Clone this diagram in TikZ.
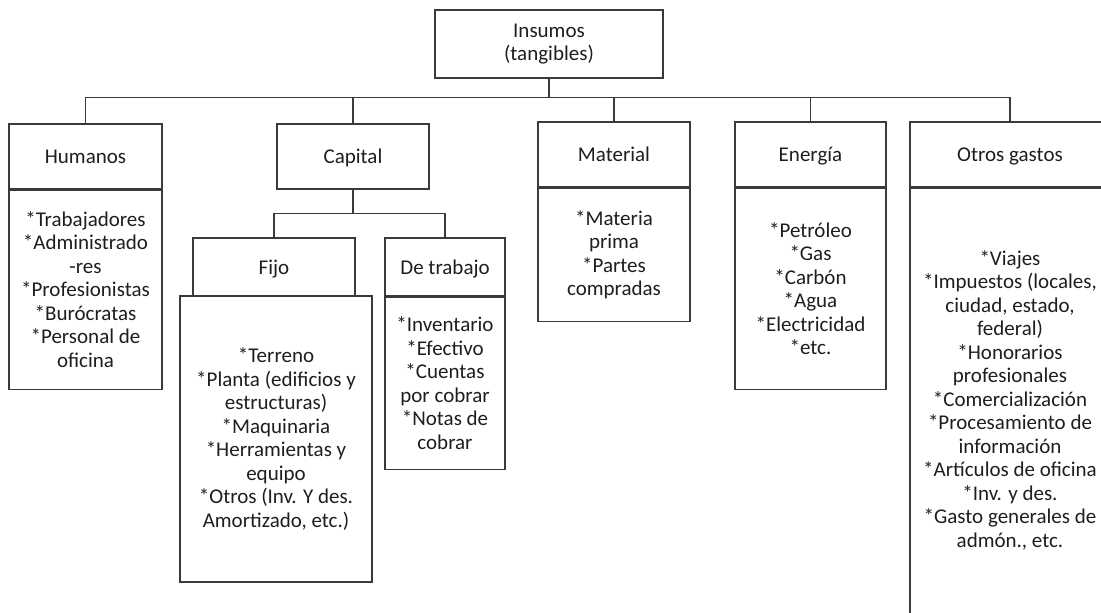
\documentclass[tikz,border=0pt]{standalone}
\usepackage{fontspec}
\setmainfont{Carlito}
\definecolor{linec}{HTML}{3A3A3A}
\definecolor{txt}{HTML}{1E1E1E}
\begin{document}
\begin{tikzpicture}[x=1pt,y=-1pt,
  box/.style={draw=linec, line width=1.1pt, inner sep=0pt, align=center,
    font=\fontsize{21}{23.5}\selectfont, text=txt},
  head/.style={box, text height=16.5pt, text depth=2.5pt},
  plain/.style={inner sep=0pt, align=center,
    font=\fontsize{21}{23.5}\selectfont, text=txt},
  link/.style={draw=linec, line width=1.1pt}]
\useasboundingbox (0,0) rectangle (1101,613);
\clip (0,0) rectangle (1101,613);

% root
\node[box, minimum width=228pt, minimum height=68pt] (ins) at (549,44) {Insumos\\(tangibles)};

% first level headers
\node[head, minimum width=153pt, minimum height=65pt] (hum) at (85.5,156.5) {Humanos};
\node[head, minimum width=152pt, minimum height=65pt] (cap) at (353,156.5) {Capital};
\node[head, minimum width=152pt, minimum height=65pt] (mat) at (614,154.5) {Material};
\node[head, minimum width=151pt, minimum height=65pt] (ene) at (810.5,154.5) {Energía};
\node[head, minimum width=200pt, minimum height=65pt] (otr) at (1010,154.5) {Otros gastos};

% first level bodies
\node[box, minimum width=153pt, minimum height=199pt, anchor=north] (humB) at (hum.south)
  {*Trabajadores\\*Administrado\\-res\\*Profesionistas\\*Burócratas\\*Personal de\\oficina};
\node[box, minimum width=152pt, minimum height=133pt, anchor=north] (matB) at (mat.south)
  {*Materia\\prima\\*Partes\\compradas};
\node[box, minimum width=151pt, minimum height=201pt, anchor=north] (eneB) at (ene.south)
  {*Petróleo\\*Gas\\*Carbón\\*Agua\\*Electricidad\\*etc.};
\node[box, minimum width=200pt, minimum height=460pt, anchor=north] (otrB) at (otr.south) {};
\node[plain] (otrT) at (1010,400)
  {*Viajes\\*Impuestos (locales,\\ciudad, estado,\\federal)\\*Honorarios\\profesionales\\*Comercialización\\*Procesamiento de\\información\\*Artículos de oficina\\*Inv. y des.\\*Gasto generales de\\admón., etc.};

% capital subtree
\node[head, minimum width=162pt, minimum height=58pt] (fij) at (274,267) {Fijo};
\node[head, minimum width=120pt, minimum height=58pt] (det) at (445,267) {De trabajo};
\node[box, minimum width=192pt, minimum height=286pt] (fijB) at (276,439)
  {*Terreno\\*Planta (edificios y\\estructuras)\\*Maquinaria\\*Herramientas y\\equipo\\*Otros (Inv. Y des.\\Amortizado, etc.)};
\node[box, minimum width=120pt, minimum height=172pt, anchor=north] (detB) at (det.south)
  {*Inventario\\*Efectivo\\*Cuentas\\por cobrar\\*Notas de\\cobrar};

% connectors
\path (ins.south) ++(0,19) coordinate (bus);
\draw[link] (ins.south) -- (bus);
\foreach \n in {hum,cap,mat,ene,otr} \draw[link] (\n.north) |- (bus);
\path (cap.south) ++(0,24) coordinate (sub);
\draw[link] (cap.south) -- (sub);
\foreach \n in {fij,det} \draw[link] (\n.north) |- (sub);
\end{tikzpicture}
\end{document}
